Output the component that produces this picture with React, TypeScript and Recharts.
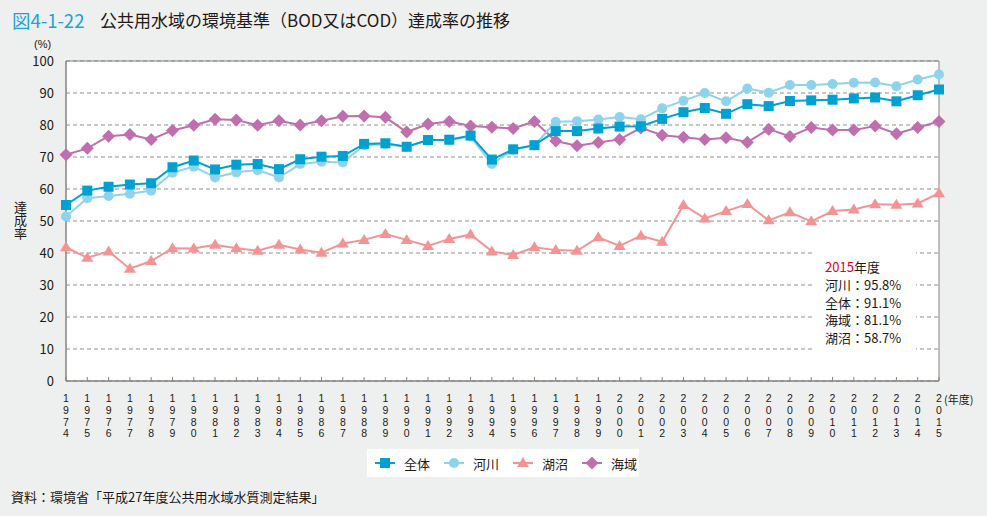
import React from 'react';
import { LineChart, Line, XAxis, YAxis, CartesianGrid, ReferenceLine } from 'recharts';

const years = [
  1974, 1975, 1976, 1977, 1978, 1979, 1980, 1981, 1982, 1983, 1984, 1985, 1986, 1987,
  1988, 1989, 1990, 1991, 1992, 1993, 1994, 1995, 1996, 1997, 1998, 1999, 2000, 2001,
  2002, 2003, 2004, 2005, 2006, 2007, 2008, 2009, 2010, 2011, 2012, 2013, 2014, 2015,
];

// 全体
const overall = [
  55.0, 59.5, 60.7, 61.4, 61.8, 66.8, 68.9, 66.1, 67.6, 67.8, 66.2, 69.3, 70.1, 70.3,
  74.1, 74.3, 73.2, 75.3, 75.4, 76.7, 69.2, 72.4, 73.7, 78.1, 78.1, 78.9, 79.5, 79.6,
  81.9, 84.0, 85.3, 83.5, 86.5, 85.9, 87.5, 87.7, 87.9, 88.3, 88.6, 87.4, 89.3, 91.1,
];
// 河川
const rivers = [
  51.4, 57.1, 57.8, 58.5, 59.5, 65.1, 67.0, 63.6, 65.2, 65.9, 63.6, 67.8, 68.5, 68.3,
  73.7, 74.0, 73.2, 75.2, 75.4, 76.4, 67.8, 72.3, 73.6, 81.0, 81.2, 81.7, 82.5, 81.8,
  85.2, 87.6, 90.0, 87.4, 91.4, 90.1, 92.5, 92.5, 92.8, 93.2, 93.3, 92.1, 94.2, 95.8,
];
// 湖沼
const lakes = [
  41.8, 38.5, 40.5, 35.1, 37.5, 41.5, 41.4, 42.6, 41.5, 40.7, 42.6, 41.1, 40.1, 43.0,
  44.1, 45.9, 44.1, 42.2, 44.4, 45.8, 40.5, 39.4, 41.8, 40.9, 40.7, 44.9, 42.2, 45.4,
  43.5, 55.0, 50.8, 53.1, 55.3, 50.2, 52.7, 49.9, 53.1, 53.6, 55.2, 55.1, 55.5, 58.7,
];
// 海域
const seas = [
  70.7, 72.7, 76.5, 77.0, 75.5, 78.3, 79.9, 81.8, 81.6, 79.9, 81.3, 80.0, 81.3, 82.7,
  82.8, 82.4, 77.8, 80.3, 81.1, 79.7, 79.3, 78.9, 81.1, 75.0, 73.5, 74.5, 75.5, 79.1,
  76.8, 76.2, 75.5, 76.0, 74.6, 78.7, 76.4, 79.2, 78.4, 78.4, 79.7, 77.3, 79.2, 81.1,
];

const yTicks = [0, 10, 20, 30, 40, 50, 60, 70, 80, 90, 100];

const data = years.map((year, i) => ({
  year,
  overall: overall[i],
  rivers: rivers[i],
  lakes: lakes[i],
  seas: seas[i],
}));

const FONT = '"Noto Sans CJK JP", "Noto Sans", sans-serif';
const LATIN = '"Liberation Sans", Arial, sans-serif';
const TEXT = '#231815';
const AXIS = '#8a827e';
const C_OVERALL = '#00a0d0';
const C_RIVERS = '#8ed3ec';
const C_LAKES = '#f29494';
const C_SEAS = '#c06fae';

const Square = ({ cx, cy, fill }: any) => <rect x={cx - 5} y={cy - 5} width={10} height={10} fill={fill} />;
const Circle = ({ cx, cy, fill }: any) => <circle cx={cx} cy={cy} r={5} fill={fill} />;
const Triangle = ({ cx, cy, fill }: any) => (
  <polygon points={`${cx},${cy - 6} ${cx + 6},${cy + 4} ${cx - 6},${cy + 4}`} fill={fill} />
);
const Diamond = ({ cx, cy, fill }: any) => (
  <polygon points={`${cx},${cy - 6.5} ${cx + 6.5},${cy} ${cx},${cy + 6.5} ${cx - 6.5},${cy}`} fill={fill} />
);

const makeDot = (Shape: any, fill: string) => (props: any) => {
  if (props.cx == null || props.cy == null) return <g key={`d-${props.index}`} />;
  return <Shape key={`d-${props.index}`} cx={props.cx} cy={props.cy} fill={fill} />;
};

// year labels: one digit per line, stacked under the tick
const YearTick = ({ x, y, payload }: any) => {
  const digits = String(payload.value).split('');
  return (
    <g>
      <line x1={x} y1={y} x2={x} y2={y - 4} stroke={AXIS} strokeWidth={1} />
      {digits.map((d, i) => (
        <text
          key={i}
          x={x}
          y={y + 21 + i * 11.8}
          textAnchor="middle"
          fontSize={10.5}
          fill={TEXT}
          fontFamily={LATIN}
        >
          {d}
        </text>
      ))}
    </g>
  );
};

const legendItems = [
  { label: '全体', color: C_OVERALL, shape: Square },
  { label: '河川', color: C_RIVERS, shape: Circle },
  { label: '湖沼', color: C_LAKES, shape: Triangle },
  { label: '海域', color: C_SEAS, shape: Diamond },
];

export default function App() {
  return (
    <div
      style={{
        position: 'absolute',
        left: 0,
        top: 0,
        width: 987,
        height: 516,
        background: '#eef0ef',
        fontFamily: FONT,
        color: TEXT,
        overflow: 'hidden',
      }}
    >
      <div style={{ position: 'absolute', left: 12, top: 7, lineHeight: '26px', whiteSpace: 'nowrap' }}>
        <span style={{ color: '#1aa3d9', fontSize: 18.5 }}>図4-1-22</span>
        <span style={{ position: 'absolute', left: 88, fontSize: 17 }}>公共用水域の環境基準（BOD又はCOD）達成率の推移</span>
      </div>
      <div style={{ position: 'absolute', left: 34, top: 38, fontSize: 11, lineHeight: '12px', fontFamily: LATIN }}>
        (%)
      </div>
      <div
        style={{
          position: 'absolute',
          left: 12,
          top: 201,
          fontSize: 13,
          lineHeight: '16px',
          writingMode: 'vertical-rl',
        }}
      >
        達成率
      </div>
      <div style={{ position: 'absolute', left: 944, top: 391, fontSize: 11, lineHeight: '16px' }}>(年度)</div>

      <LineChart
        width={987}
        height={516}
        data={data}
        margin={{ top: 61, right: 48, bottom: 75, left: 16 }}
        style={{ position: 'absolute', left: 0, top: 0 }}
      >
        <CartesianGrid vertical={false} stroke="#8f8f8f" strokeDasharray="4 3" fill="#ffffff" />
        <XAxis
          dataKey="year"
          padding={{ left: 0, right: 0 }}
          interval={0}
          height={60}
          tickSize={0}
          tickMargin={0}
          tick={<YearTick />}
          axisLine={{ stroke: AXIS, strokeWidth: 1.5 }}
          tickLine={false}
        />
        <YAxis
          domain={[0, 100]}
          ticks={yTicks}
          width={50}
          tickSize={0}
          tickMargin={12}
          axisLine={{ stroke: AXIS, strokeWidth: 1.5 }}
          tickLine={false}
          tick={{ fontSize: 13, fill: TEXT, fontFamily: FONT }}
        />
        <ReferenceLine y={100} stroke={AXIS} strokeWidth={1} />
        <ReferenceLine x={2015} stroke={AXIS} strokeWidth={1} />
        <Line
          dataKey="lakes"
          stroke={C_LAKES}
          strokeWidth={2}
          dot={makeDot(Triangle, C_LAKES)}
          activeDot={false}
          isAnimationActive={false}
        />
        <Line
          dataKey="seas"
          stroke={C_SEAS}
          strokeWidth={2}
          dot={makeDot(Diamond, C_SEAS)}
          activeDot={false}
          isAnimationActive={false}
        />
        <Line
          dataKey="rivers"
          stroke={C_RIVERS}
          strokeWidth={2}
          dot={makeDot(Circle, C_RIVERS)}
          activeDot={false}
          isAnimationActive={false}
        />
        <Line
          dataKey="overall"
          stroke={C_OVERALL}
          strokeWidth={2}
          dot={makeDot(Square, C_OVERALL)}
          activeDot={false}
          isAnimationActive={false}
        />
      </LineChart>

      <div
        style={{
          position: 'absolute',
          left: 814,
          top: 250,
          width: 102,
          height: 103,
          background: '#ffffff',
          fontSize: 13,
          lineHeight: '17.8px',
          paddingLeft: 11,
          paddingTop: 8,
          boxSizing: 'border-box',
          whiteSpace: 'nowrap',
        }}
      >
        <div>
          <span style={{ color: '#e60012' }}>2015</span>年度
        </div>
        <div>河川：95.8%</div>
        <div>全体：91.1%</div>
        <div>海域：81.1%</div>
        <div>湖沼：58.7%</div>
      </div>

      <div
        style={{
          position: 'absolute',
          left: 367,
          top: 449,
          width: 272,
          height: 28,
          background: '#ffffff',
          display: 'flex',
          alignItems: 'center',
          fontSize: 13,
        }}
      >
        {legendItems.map((it, i) => {
          const Shape = it.shape;
          return (
            <div key={it.label} style={{ display: 'flex', alignItems: 'center', marginLeft: i === 0 ? 8 : 14 }}>
              <svg width={20} height={14}>
                <line x1={0} y1={7} x2={20} y2={7} stroke={it.color} strokeWidth={2} />
                <Shape cx={10} cy={7} fill={it.color} />
              </svg>
              <span style={{ marginLeft: 9 }}>{it.label}</span>
            </div>
          );
        })}
      </div>

      <div style={{ position: 'absolute', left: 11, top: 488, fontSize: 13, lineHeight: '18px', whiteSpace: 'nowrap' }}>
        資料：環境省「平成27年度公共用水域水質測定結果」
      </div>
    </div>
  );
}
